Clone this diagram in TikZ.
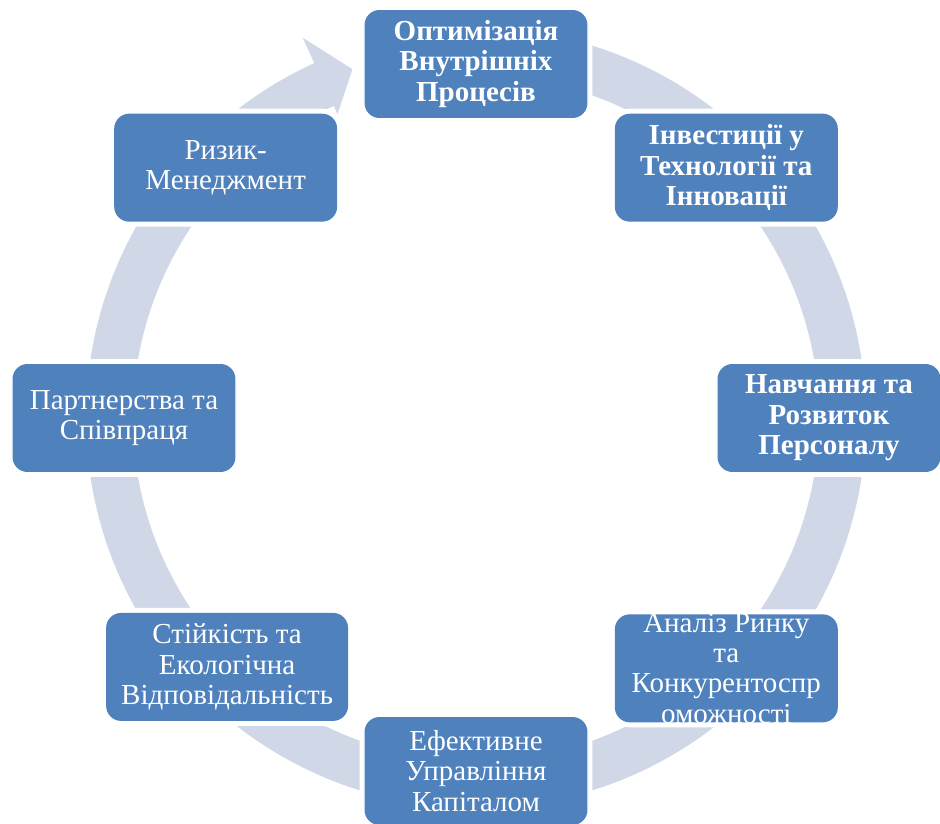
\documentclass[tikz,border=0pt]{standalone}
\usepackage{fontspec}
\setmainfont{Liberation Serif}
\usetikzlibrary{positioning}
\definecolor{boxblue}{HTML}{4F81BD}
\definecolor{ringgray}{HTML}{D0D8E8}

\begin{document}
\begin{tikzpicture}[x=0.02cm,y=0.02cm,inner sep=0pt,
  boxtext/.style={text=white,align=center,font=\fontsize{16.5pt}{17.3pt}\selectfont},
  box/.style={boxtext,rectangle,rounded corners=0.3cm,fill=boxblue,preaction={draw=white,line width=0.2cm},minimum width=4.46cm,minimum height=2.16cm},
  bbox/.style={box,font=\fontsize{16.5pt}{17.3pt}\selectfont\bfseries}]
\useasboundingbox (-476,-405) rectangle (464,418);
\fill[ringgray] (95:390) arc (95:-245.5:390) -- (114.5:418) -- (109.5:370) -- (114.5:334) -- (114.5:343) arc (-245.5:95:343) -- cycle;
\node (opt) at (90:354) [bbox] {Оптимізація\\Внутрішніх\\Процесів};
\node (inv) at (45:354) [bbox] {Інвестиції у\\Технології та\\Інновації};
\node (nav) at (0:353) [bbox] {Навчання та\\Розвиток\\Персоналу};
\node (an) at (-45:354) [box] {};
\node (ef) at (-90:353) [box] {Ефективне\\Управління\\Капіталом};
\node (st) at (-135:352) [box,minimum width=4.84cm] {Стійкість та\\Екологічна\\Відповідальність};
\node (par) at (180:352) [box] {Партнерства та\\Співпраця};
\node (riz) at (135:354) [box] {Ризик-\\Менеджмент};
\begin{scope}
\clip[rounded corners=0.3cm] (an.south west) rectangle (an.north east);
\node (antext) at (an) [boxtext] {Аналіз Ринку\\та\\Конкурентоспр\\оможності};
\end{scope}
\end{tikzpicture}
\end{document}
